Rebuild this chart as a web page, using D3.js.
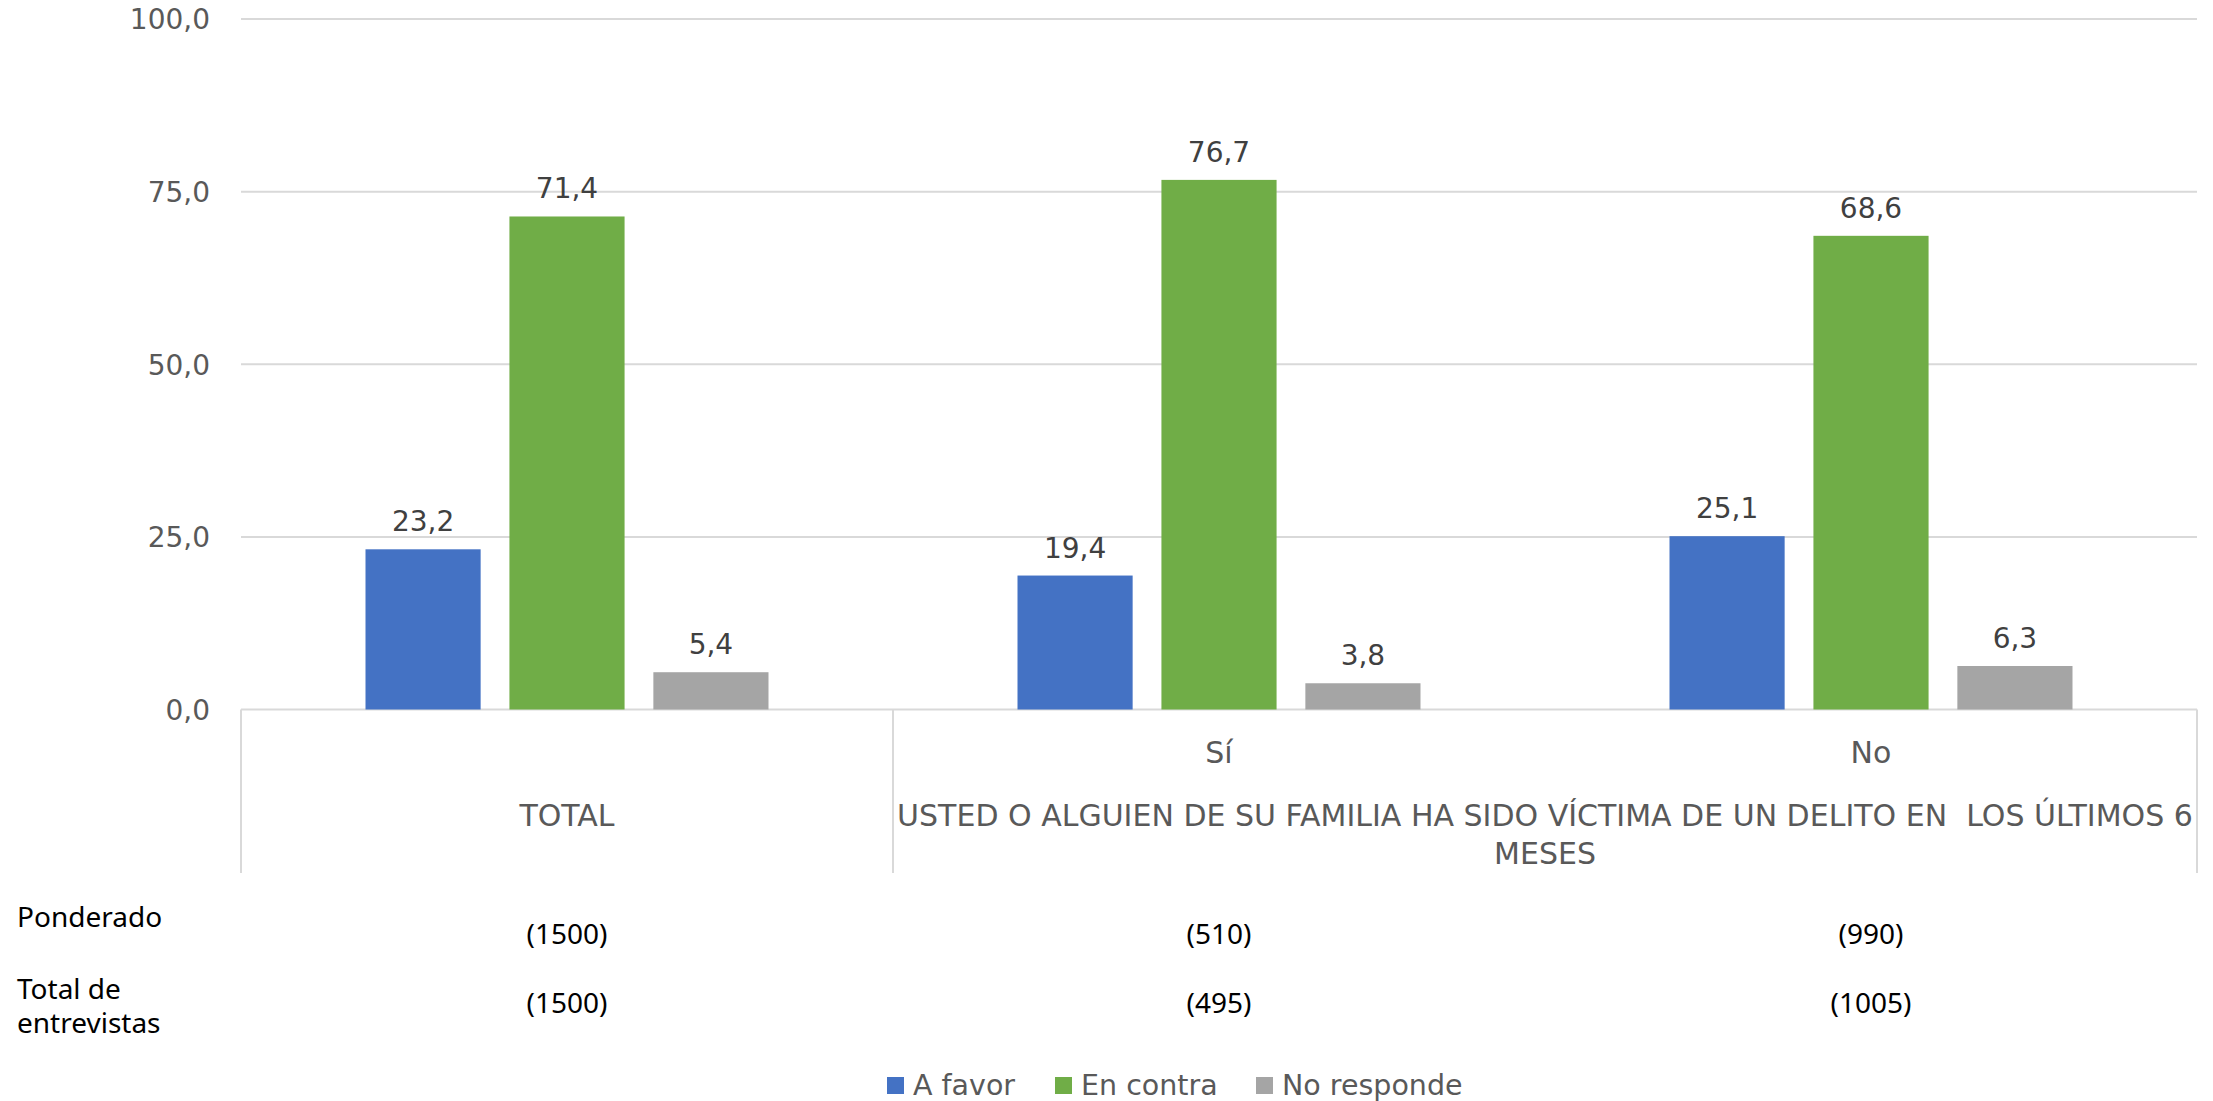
<!DOCTYPE html>
<html>
<head>
<meta charset="utf-8">
<script src="https://cdn.jsdelivr.net/npm/d3@7"></script>
<style>
  body { margin: 0; background: #fff; }
  svg { display: block; }
</style>
</head>
<body>
<div id="chart"></div>
<script>
// chart values
const categories = ["TOTAL", "Sí", "No"];
const groupLabel = "USTED O ALGUIEN DE SU FAMILIA HA SIDO VÍCTIMA DE UN DELITO EN  LOS ÚLTIMOS 6 MESES";
const series = ["A favor", "En contra", "No responde"];
const aFavor = [23.2, 19.4, 25.1];
const enContra = [71.4, 76.7, 68.6];
const noResponde = [5.4, 3.8, 6.3];
const yTicks = [0, 25, 50, 75, 100];
const rowLabels = [["Ponderado"], ["Total de", "entrevistas"]];
const ponderado = ["(1500)", "(510)", "(990)"];
const entrevistas = ["(1500)", "(495)", "(1005)"];

const colors = ["#4472C4", "#70AD47", "#A5A5A5"];
const W = 2213, H = 1101;
const plotLeft = 241, plotRight = 2197, plotTop = 19, plotBottom = 709.5, boxBottom = 873;

const data = categories.map((c, i) => ({
  cat: c, vals: [aFavor[i], enContra[i], noResponde[i]]
}));

const svg = d3.select("#chart").append("svg")
  .attr("width", W).attr("height", H);

const x0 = d3.scaleBand().domain(categories).range([plotLeft, plotRight]);
const x1 = d3.scaleBand().domain(series).range([0, x0.bandwidth()])
  .paddingInner(0.2).paddingOuter(0.865);
const y = d3.scaleLinear().domain([0, 100]).range([plotBottom, plotTop]);

const fmt = v => d3.format(".1f")(v).replace(".", ",");

// gridlines
svg.append("g").selectAll("line").data(yTicks).enter().append("line")
  .attr("x1", plotLeft).attr("x2", plotRight)
  .attr("y1", d => y(d)).attr("y2", d => y(d))
  .attr("stroke", "#d9d9d9").attr("stroke-width", 2);

// y axis labels
const yAxis = svg.append("g").attr("transform", "translate(" + (plotLeft - 31) + ",0)")
  .call(d3.axisLeft(y).tickValues(yTicks).tickFormat(fmt).tickSize(0).tickPadding(0));
yAxis.select(".domain").remove();
yAxis.selectAll("text")
  .attr("font-family", "DejaVu Sans").attr("font-size", 28)
  .attr("fill", "#595959").attr("dy", "0.35em");

// category box
const boxLines = [plotLeft, x0("Sí"), plotRight];
svg.append("g").selectAll("line").data(boxLines).enter().append("line")
  .attr("x1", d => d).attr("x2", d => d)
  .attr("y1", plotBottom).attr("y2", boxBottom)
  .attr("stroke", "#d9d9d9").attr("stroke-width", 2);

// bars
const groups = svg.append("g").selectAll("g").data(data).enter().append("g")
  .attr("transform", d => "translate(" + x0(d.cat) + ",0)");

groups.selectAll("rect").data(d => d.vals.map((v, j) => ({ s: series[j], v: v, j: j })))
  .enter().append("rect")
  .attr("x", d => x1(d.s))
  .attr("y", d => y(d.v))
  .attr("width", x1.bandwidth())
  .attr("height", d => plotBottom - y(d.v))
  .attr("fill", d => colors[d.j]);

groups.selectAll("text").data(d => d.vals.map((v, j) => ({ s: series[j], v: v })))
  .enter().append("text")
  .attr("x", d => x1(d.s) + x1.bandwidth() / 2)
  .attr("y", d => y(d.v) - 18)
  .attr("text-anchor", "middle")
  .attr("font-family", "DejaVu Sans").attr("font-size", 28)
  .attr("fill", "#404040")
  .text(d => fmt(d.v));

// category labels
const catText = svg.append("g")
  .attr("font-family", "DejaVu Sans").attr("font-size", 30).attr("fill", "#595959")
  .attr("text-anchor", "middle");
catText.append("text").attr("x", x0("TOTAL") + x0.bandwidth() / 2).attr("y", 826).text("TOTAL");
catText.append("text").attr("x", x0("Sí") + x0.bandwidth() / 2).attr("y", 763).text("Sí");
catText.append("text").attr("x", x0("No") + x0.bandwidth() / 2).attr("y", 763).text("No");

// outer group label, wrapped to its span
const spanX = x0("Sí"), spanW = plotRight - spanX;
const gl = catText.append("text").attr("x", spanX + spanW / 2).attr("y", 826)
  .style("white-space", "pre");
const words = groupLabel.split(" ");
let lines = [], cur = "";
const probe = gl.append("tspan");
words.forEach(w => {
  const test = cur === "" ? w : cur + " " + w;
  probe.text(test);
  if (probe.node().getComputedTextLength() > spanW - 6 && cur !== "") {
    lines.push(cur); cur = w;
  } else cur = test;
});
lines.push(cur);
probe.remove();
lines.forEach((l, i) => {
  gl.append("tspan").attr("x", spanX + spanW / 2).attr("dy", i === 0 ? 0 : 38).text(l);
});

// table rows
const tbl = svg.append("g").attr("font-family", "Noto Sans").attr("font-size", 28).attr("fill", "#000");
const rowY = [944, 1013];
rowLabels.forEach((lbl, r) => {
  const t = tbl.append("text").attr("x", 17).attr("y", r === 0 ? 927 : 999);
  lbl.forEach((s, k) => t.append("tspan").attr("x", 17).attr("dy", k === 0 ? 0 : 34).text(s));
});
[ponderado, entrevistas].forEach((row, r) => {
  tbl.selectAll(null).data(row).enter().append("text")
    .attr("x", (d, i) => x0(categories[i]) + x0.bandwidth() / 2)
    .attr("y", rowY[r])
    .attr("text-anchor", "middle")
    .text(d => d);
});

// legend
const legendX = [887, 1055, 1256];
const lg = svg.append("g");
series.forEach((s, i) => {
  lg.append("rect").attr("x", legendX[i]).attr("y", 1077).attr("width", 17).attr("height", 17)
    .attr("fill", colors[i]);
  lg.append("text").attr("x", legendX[i] + 26).attr("y", 1095)
    .attr("font-family", "DejaVu Sans").attr("font-size", 28.5).attr("fill", "#595959")
    .text(s);
});
</script>
</body>
</html>
